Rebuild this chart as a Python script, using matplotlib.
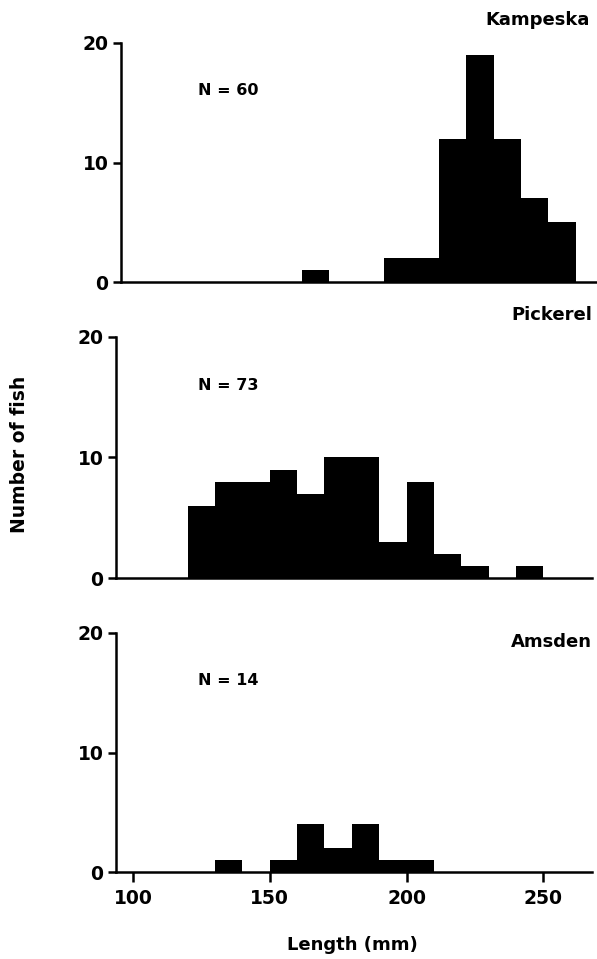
import numpy as np
from matplotlib import pyplot as plt

plt.rcParams['font.family'] = ['DejaVu Sans']
plt.rcParams['font.weight'] = 'bold'

# bin left edges (mm), 10 mm wide
bin_edges = [120, 130, 140, 150, 160, 170, 180, 190, 200, 210, 220, 230, 240, 250]
kampeska = [0, 0, 0, 0, 1, 0, 0, 2, 2, 12, 19, 12, 7, 5]
pickerel = [6, 8, 8, 9, 7, 10, 10, 3, 8, 2, 1, 0, 1, 0]
amsden = [0, 1, 0, 1, 4, 2, 4, 1, 1, 0, 0, 0, 0, 0]

lakes = ['Kampeska', 'Pickerel', 'Amsden']
n_fish = [60, 73, 14]
counts = [kampeska, pickerel, amsden]
y_ticks = [0, 10, 20]
x_ticks = [100, 150, 200, 250]

W, H = 597, 959
fig = plt.figure(figsize=(W / 100, H / 100), dpi=100)

# axes boxes in pixels: left, zero line, top (20) line
boxes = [(121, 282, 43), (116, 578, 337), (116, 872, 633)]
name_pos = [(0.985, 1.095), (1.0, 1.09), (1.0, 0.962)]
width_px = 476

for i, (left, y0, y20) in enumerate(boxes):
    ax = fig.add_axes([left / W, 1 - y0 / H, width_px / W, (y0 - y20) / H])
    ax.bar(bin_edges, counts[i], width=10, align='edge', color='black',
           linewidth=0)
    ax.set_xlim(93.8, 267.8)
    ax.set_ylim(0, 20)
    for s in ['top', 'right']:
        ax.spines[s].set_visible(False)
    for s in ['left', 'bottom']:
        ax.spines[s].set_linewidth(1.8)
    ax.set_yticks(y_ticks)
    ax.tick_params(axis='y', direction='out', length=6, width=1.8,
                   labelsize=13.5, pad=3)
    if i == 2:
        ax.set_xticks(x_ticks)
        ax.tick_params(axis='x', direction='out', length=7, width=1.8,
                       labelsize=13.5, pad=5)
    else:
        ax.set_xticks([])
    ax.text(name_pos[i][0], name_pos[i][1], lakes[i], transform=ax.transAxes,
            ha='right', va='center', fontsize=13, fontweight='bold')
    ax.text((198 - left) / width_px, 16 / 20, 'N = %d' % n_fish[i],
            transform=ax.transAxes, ha='left', va='center',
            fontsize=11.5, fontweight='bold')

fig.text(20 / W, 1 - 454 / H, 'Number of fish', rotation=90, ha='center',
         va='center', fontsize=13.5, fontweight='bold')
fig.text(352 / W, 1 - 945 / H, 'Length (mm)', ha='center', va='center',
         fontsize=13, fontweight='bold')

fig.savefig('out.png', dpi=100)
